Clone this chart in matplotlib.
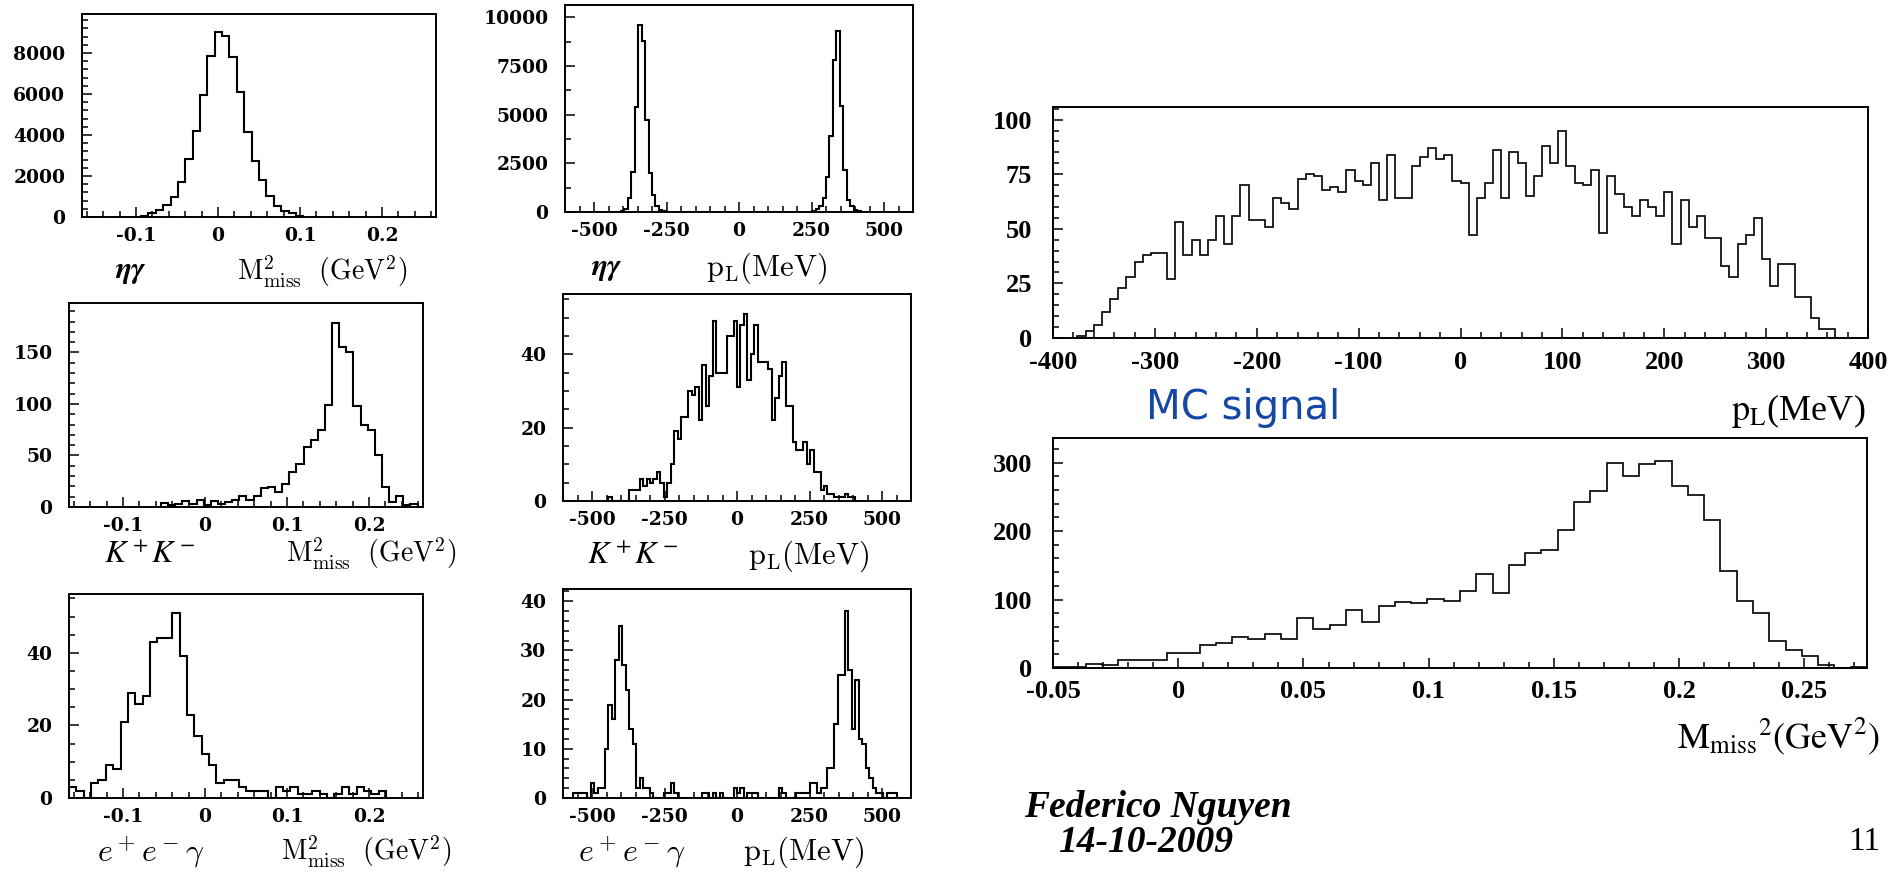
import numpy as np
import matplotlib
matplotlib.use('Agg')
import matplotlib.pyplot as plt
from matplotlib.ticker import MultipleLocator

# ---------------- data ----------------
# eta gamma : M2_miss, bins of 0.009 GeV^2
eg_m2_start, eg_m2_w = -0.094, 0.009
eg_m2 = [60, 180, 320, 600, 980, 1700, 2830, 4210, 5970, 7870, 9000, 8850,
         7800, 6100, 4150, 2750, 1800, 1000, 550, 300, 180, 60]

# eta gamma : pL, two peaks, bins of 12 MeV
eg_pl_w = 12
eg_pl_left_start = -408
eg_pl_left = [50, 150, 700, 2050, 5400, 9600, 8800, 4700, 2000, 850, 300, 100, 40, 20]
eg_pl_right_start = 252
eg_pl_right = [70, 150, 300, 700, 1800, 3900, 7800, 9300, 5450, 2150, 630, 300, 100, 30]

# K+K- : M2_miss
kk_m2_start, kk_m2_w = -0.0538, 0.0087
kk_m2 = [4, 2, 3, 6, 3, 7, 2, 6, 3, 5, 7, 11, 7, 11, 18, 19, 15, 22, 34, 42, 58,
         65, 75, 99, 179, 155, 150, 98, 80, 75, 50, 19, 5, 11, 2, 3]

# K+K- : pL, bins of 12 MeV
kk_pl_start, kk_pl_w = -444, 12
kk_pl = [1, 0, 0, 0, 0, 0, 3, 3, 3, 6, 4, 6, 5, 6, 8, 5, 1, 5, 10, 19, 17, 23, 23,
         30, 29, 31, 22, 37, 26, 34, 49, 35, 35, 35, 45, 45, 49, 31, 48, 51, 33, 40,
         48, 38, 38, 38, 36, 22, 28, 34, 38, 26, 26, 16, 14, 14, 16, 10, 14, 8, 8,
         3, 4, 2, 2, 1, 1, 1, 2, 1, 1]

# e+e-gamma : M2_miss
ee_m2_start, ee_m2_w = -0.166, 0.009
ee_m2 = [3, 2, 0, 4, 5, 9, 8, 21, 29, 26, 28, 43, 44, 44, 51, 39, 23, 17, 12, 9, 4,
         5, 5, 3, 2, 2, 2, 0, 3, 2, 3, 1, 1, 2, 1, 0, 1, 3, 1, 3, 2, 1, 2]

# e+e-gamma : pL, bins of 12 MeV
ee_pl_start, ee_pl_w = -564, 12
ee_pl = [1, 1, 1, 1, 0, 3, 1, 2, 2, 10, 19, 16, 28, 35, 27, 22, 14, 11, 2, 4, 2, 2,
         1, 0, 0, 0, 1, 1, 3, 1, 0, 0, 0, 0, 0, 0, 0, 1, 1, 0, 1, 0, 1, 0, 0, 0, 2,
         1, 2, 0, 1, 1, 1, 0, 0, 0, 0, 0, 0, 2, 1, 0, 0, 0, 1, 1, 1, 1, 3, 3, 1, 2,
         2, 6, 6, 15, 25, 25, 38, 26, 14, 24, 12, 11, 6, 4, 2, 1, 1, 0, 1, 1, 1]

# MC signal : pL, bins of 8 MeV
mc_pl_start, mc_pl_w = -376, 8
mc_pl = [1, 3, 6, 12, 18, 23, 28, 35, 38, 39, 39, 27, 53, 38, 45, 38, 45, 56, 43, 56,
         70, 54, 54, 51, 64, 62, 59, 73, 75, 74, 68, 69, 67, 77, 72, 70, 80, 63, 84,
         64, 64, 79, 83, 87, 82, 84, 72, 71, 47, 64, 71, 86, 64, 85, 80, 65, 74, 88,
         80, 95, 79, 71, 70, 77, 48, 74, 66, 60, 56, 63, 60, 56, 67, 43, 63, 51, 56,
         46, 46, 33, 28, 43, 47, 55, 36, 24, 34, 34, 19, 19, 9, 4, 4]

# MC signal : M2_miss, bins of 0.0065 GeV^2
mc_m2_start, mc_m2_w = -0.05, 0.0065
mc_m2 = [2, 2, 6, 4, 12, 12, 12, 22, 22, 33, 37, 45, 43, 50, 43, 73, 57, 63, 85, 67,
         90, 97, 95, 101, 98, 112, 137, 110, 150, 168, 172, 202, 243, 258, 299, 280,
         298, 303, 266, 253, 216, 142, 98, 80, 40, 26, 18, 4, 0, 2]

m2_ticks = [-0.1, 0, 0.1, 0.2]
m2_labels = ['-0.1', '0', '0.1', '0.2']
pl_ticks = [-500, -250, 0, 250, 500]
pl_labels = ['-500', '-250', '0', '250', '500']

# ---------------- figure ----------------
W, H = 1904, 872
fig = plt.figure(figsize=(W / 100, H / 100), dpi=100)


def add_panel(l, t, r, b, segments, width, xlim, ylim, xt, xtl, yt, ytl,
              xminor, yminor, big=False):
    ax = fig.add_axes([l / W, 1 - b / H, (r - l) / W, (b - t) / H])
    for start, counts in segments:
        edges = start + width * np.arange(len(counts) + 1)
        ax.stairs(counts, edges, color='black', lw=1.2 if big else 1.5)
    ax.set_xlim(*xlim)
    ax.set_ylim(*ylim)
    if big:
        kw = dict(fontfamily='Liberation Serif', fontweight='bold', fontsize=19)
    else:
        kw = dict(fontfamily='DejaVu Serif', fontweight='bold', fontsize=13.5)
    ax.set_xticks(xt, xtl, **kw)
    ax.set_yticks(yt, ytl, **kw)
    ax.xaxis.set_minor_locator(MultipleLocator(xminor))
    ax.yaxis.set_minor_locator(MultipleLocator(yminor))
    ax.tick_params(which='both', direction='in', top=False, right=False, width=1.1)
    ax.tick_params(which='major', length=7)
    ax.tick_params(which='minor', length=4)
    ax.tick_params(axis='x', pad=9 if big else 7)
    ax.tick_params(axis='y', pad=15 if big else 12)
    for s in ax.spines.values():
        s.set_linewidth(1.4)
    return ax


add_panel(82, 14, 436, 217, [(eg_m2_start, eg_m2)], eg_m2_w, (-0.166, 0.266), (0, 9900),
          m2_ticks, m2_labels, [0, 2000, 4000, 6000, 8000],
          ['0', '2000', '4000', '6000', '8000'], 0.02, 400)
add_panel(565, 5, 913, 212, [(eg_pl_left_start, eg_pl_left), (eg_pl_right_start, eg_pl_right)],
          eg_pl_w, (-600, 600), (0, 10630), pl_ticks, pl_labels,
          [0, 2500, 5000, 7500, 10000], ['0', '2500', '5000', '7500', '10000'], 50, 1250)
add_panel(69, 303, 423, 507, [(kk_m2_start, kk_m2)], kk_m2_w, (-0.166, 0.266), (0, 198),
          m2_ticks, m2_labels, [0, 50, 100, 150], ['0', '50', '100', '150'], 0.02, 10)
add_panel(563, 294, 911, 501, [(kk_pl_start, kk_pl)], kk_pl_w, (-600, 600), (0, 56.5),
          pl_ticks, pl_labels, [0, 20, 40], ['0', '20', '40'], 50, 5)
add_panel(69, 594, 423, 798, [(ee_m2_start, ee_m2)], ee_m2_w, (-0.166, 0.266), (0, 56.2),
          m2_ticks, m2_labels, [0, 20, 40], ['0', '20', '40'], 0.02, 5)
add_panel(563, 589, 911, 798, [(ee_pl_start, ee_pl)], ee_pl_w, (-600, 600), (0, 42.5),
          pl_ticks, pl_labels, [0, 10, 20, 30, 40], ['0', '10', '20', '30', '40'], 50, 2)
add_panel(1053, 107, 1868, 338, [(mc_pl_start, mc_pl)], mc_pl_w, (-400, 400), (0, 105.8),
          [-400, -300, -200, -100, 0, 100, 200, 300, 400],
          ['-400', '-300', '-200', '-100', '0', '100', '200', '300', '400'],
          [0, 25, 50, 75, 100], ['0', '25', '50', '75', '100'], 20, 5, big=True)
add_panel(1053, 438, 1867, 668, [(mc_m2_start, mc_m2)], mc_m2_w, (-0.05, 0.275), (0, 336),
          [-0.05, 0, 0.05, 0.1, 0.15, 0.2, 0.25],
          ['-0.05', '0', '0.05', '0.1', '0.15', '0.2', '0.25'],
          [0, 100, 200, 300], ['0', '100', '200', '300'], 0.01, 20, big=True)


def ftext(x, y, s, **kw):
    fig.text(x / W, 1 - y / H, s, **kw)


m2_lab = r'$\mathrm{M^2_{miss}}\ \ \mathrm{(GeV^2)}$'
pl_lab = r'$\mathrm{p_L(MeV)}$'
# captions under the small panels
ftext(131, 272, r'$\boldsymbol{\eta\gamma}$', ha='center', va='center', fontsize=22, math_fontfamily='stix')
ftext(322, 272, m2_lab, ha='center', va='center', fontsize=20, math_fontfamily='cm')
ftext(607, 268, r'$\boldsymbol{\eta\gamma}$', ha='center', va='center', fontsize=22, math_fontfamily='stix')
ftext(766, 268, pl_lab, ha='center', va='center', fontsize=22, math_fontfamily='cm')
ftext(150, 554, r'$\boldsymbol{K^+K^-}$', ha='center', va='center', fontsize=23, math_fontfamily='stix')
ftext(371, 554, m2_lab, ha='center', va='center', fontsize=20, math_fontfamily='cm')
ftext(633, 556, r'$\boldsymbol{K^+K^-}$', ha='center', va='center', fontsize=23, math_fontfamily='stix')
ftext(808, 556, pl_lab, ha='center', va='center', fontsize=22, math_fontfamily='cm')
ftext(151, 852, r'$e^+e^-\gamma$', ha='center', va='center', fontsize=23, math_fontfamily='cm')
ftext(366, 852, m2_lab, ha='center', va='center', fontsize=20, math_fontfamily='cm')
ftext(632, 852, r'$e^+e^-\gamma$', ha='center', va='center', fontsize=23, math_fontfamily='cm')
ftext(803, 852, pl_lab, ha='center', va='center', fontsize=22, math_fontfamily='cm')

# right side
ftext(1243, 408, 'MC signal', ha='center', va='center', fontsize=29,
      color='#1747a6', family='DejaVu Sans')
ftext(1865, 420, r'$\mathrm{p_L}$(MeV)', ha='right', va='baseline', fontsize=26,
      family='Liberation Serif', math_fontfamily='stix')
ftext(1880, 748, r'$\mathrm{M_{miss}}^{2}\mathrm{(GeV^{2})}$', ha='right', va='baseline',
      fontsize=26, math_fontfamily='stix')
ftext(1158, 807, 'Federico Nguyen', ha='center', va='center', fontsize=27,
      family='Liberation Serif', fontweight='bold', style='italic')
ftext(1146, 842, '14-10-2009', ha='center', va='center', fontsize=27,
      family='Liberation Serif', fontweight='bold', style='italic')
ftext(1880, 842, '11', ha='right', va='center', fontsize=24, family='Liberation Serif')

fig.savefig('out.png', dpi=100)
